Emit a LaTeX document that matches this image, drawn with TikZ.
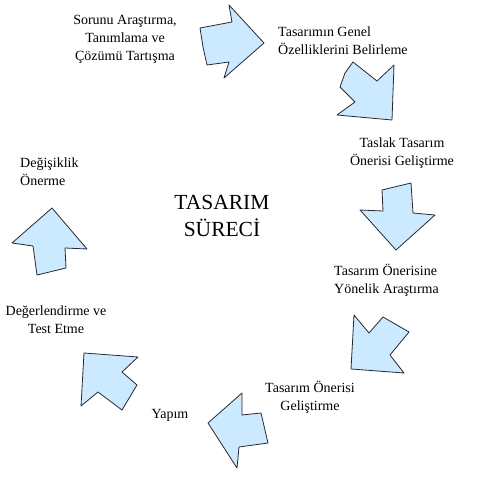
\documentclass[tikz,border=0pt]{standalone}
\usepackage{fontspec}
\setmainfont{Liberation Serif}
\definecolor{arrowblue}{RGB}{204,234,255}
\definecolor{arrowline}{RGB}{40,40,50}
\tikzset{
    bigarrow/.style={fill=arrowblue,draw=arrowline,line width=0.8pt,line join=round},
    steplabel/.style={font=\fontsize{14}{18}\selectfont,inner sep=0pt},
}
\begin{document}
\begin{tikzpicture}[x=1pt,y=-1pt]
        \useasboundingbox (0,0) rectangle (479,481);
        % title
        \node[font=\fontsize{21.5}{27}\selectfont,align=center,inner sep=0pt] (title) at (222,216) {TASARIM\\SÜRECİ};
        % step labels
        \node[steplabel,align=center] (sorun) at (125,39) {Sorunu Araştırma,\\Tanımlama ve\\Çözümü Tartışma};
        \node[steplabel,align=left,anchor=west] (genel) at (278,41) {Tasarımın Genel\\Özelliklerini Belirleme};
        \node[steplabel,align=center] (taslak) at (402,153) {Taslak Tasarım\\Önerisi Geliştirme};
        \node[steplabel,align=left,anchor=west] (arastirma) at (334,280) {Tasarım Önerisine\\Yönelik Araştırma};
        \node[steplabel,align=center] (gelistirme) at (310,397) {Tasarım Önerisi\\Geliştirme};
        \node[steplabel] (yapim) at (170,415) {Yapım};
        \node[steplabel,align=center] (test) at (56,320) {Değerlendirme ve\\Test Etme};
        \node[steplabel,align=left,anchor=west] (degisiklik) at (20,172) {Değişiklik\\Önerme};
        % block arrows, clockwise
        \filldraw[bigarrow] (200,28)--(232,22)--(229,5)--(264,43)--(224,78)--(229,62)--(207,65)--(203,47)--cycle;
        \filldraw[bigarrow] (353,62)--(377,81)--(394,65)--(392,120)--(337,115)--(355,102)--(340,87)--(345,73)--cycle;
        \filldraw[bigarrow] (382,190)--(411,183)--(413,213)--(435,215)--(396,250)--(360,210)--(383,211)--cycle;
        \filldraw[bigarrow] (383,317)--(409,332)--(390,355)--(404,373)--(351,369)--(354,315)--(369,333)--cycle;
        \filldraw[bigarrow] (261,413)--(268,443)--(239,447)--(237,468)--(208,423)--(242,393)--(242,415)--cycle;
        \filldraw[bigarrow] (137,385)--(122,410)--(98,392)--(81,406)--(84,353)--(138,357)--(122,372)--cycle;
        \filldraw[bigarrow] (37,275)--(66,268)--(65,248)--(87,249)--(52,208)--(12,243)--(33,246)--cycle;
\end{tikzpicture}
\end{document}
